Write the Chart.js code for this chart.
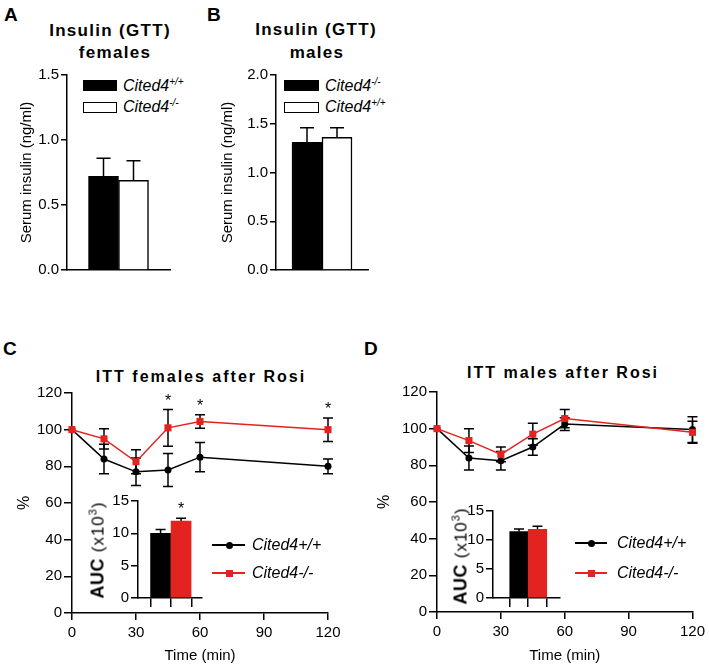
<!DOCTYPE html>
<html><head><meta charset="utf-8">
<script src="https://cdn.jsdelivr.net/npm/chart.js@4.4.1/dist/chart.umd.min.js"></script>
<style>
html,body{margin:0;padding:0;background:#fff;}
#fig{position:relative;width:709px;height:668px;overflow:hidden;font-family:"Liberation Sans",Arial,sans-serif;color:#000;}
canvas{position:absolute;}
.t{position:absolute;white-space:nowrap;}
.letter{font-weight:bold;font-size:19px;line-height:19px;}
.title{font-weight:bold;font-size:17px;letter-spacing:1.3px;text-align:center;line-height:20px;width:300px;}
.ttl2{font-weight:bold;font-size:16px;letter-spacing:2px;text-align:center;line-height:20px;width:300px;}
.leg{font-style:italic;font-size:16px;line-height:20px;}
.leg sup{font-size:10px;vertical-align:6px;line-height:0;}
.box{position:absolute;box-sizing:border-box;}
.auc{position:absolute;white-space:nowrap;transform:translate(-50%,-50%) rotate(-90deg);font-size:17px;line-height:20px;letter-spacing:1px;}
.auc b{font-size:18px;letter-spacing:0.5px;}
.auc sup{font-size:11px;vertical-align:7px;line-height:0;}
</style></head>
<body><div id="fig">
<div class="t letter" style="left:4px;top:5px;">A</div>
<div class="t letter" style="left:207px;top:5px;">B</div>
<div class="t letter" style="left:3px;top:339px;">C</div>
<div class="t letter" style="left:364px;top:339px;">D</div>

<div class="t title" style="left:-40px;top:21px;">Insulin (GTT)</div>
<div class="t title" style="left:-35px;top:43px;">females</div>
<div class="t title" style="left:166px;top:20px;">Insulin (GTT)</div>
<div class="t title" style="left:167px;top:43px;">males</div>
<div class="t ttl2" style="left:51px;top:367px;">ITT females after Rosi</div>
<div class="t ttl2" style="left:413px;top:363px;">ITT males after Rosi</div>

<!-- legend A -->
<div class="box" style="left:83px;top:80px;width:34px;height:11px;background:#000;"></div>
<div class="t leg" style="left:123px;top:76px;">Cited4<sup>+/+</sup></div>
<div class="box" style="left:83px;top:102px;width:34px;height:11px;background:#fff;border:1.5px solid #000;"></div>
<div class="t leg" style="left:123px;top:97px;">Cited4<sup>-/-</sup></div>
<!-- legend B -->
<div class="box" style="left:284px;top:80px;width:35px;height:11px;background:#000;"></div>
<div class="t leg" style="left:325px;top:76px;">Cited4<sup>-/-</sup></div>
<div class="box" style="left:284px;top:102px;width:35px;height:11px;background:#fff;border:1.5px solid #000;"></div>
<div class="t leg" style="left:325px;top:97px;">Cited4<sup>+/+</sup></div>
</div>
<script>
// ---------------- data ----------------
const insulinF_groups = ['Cited4+/+', 'Cited4-/-'];
const insulinF_mean = [0.72, 0.69];
const insulinF_sem = [0.14, 0.15];

const insulinM_groups = ['Cited4-/-', 'Cited4+/+'];
const insulinM_mean = [1.31, 1.36];
const insulinM_sem = [0.15, 0.10];

const timeMin = [0, 15, 30, 45, 60, 120];
const xTicks = [0, 30, 60, 90, 120];
const seriesNames = ['Cited4+/+', 'Cited4-/-'];

const ittF_wt = [100, 84, 77, 78, 85, 80];
const ittF_wt_sem = [0, 8, 7.5, 9, 8, 4];
const ittF_ko = [100, 95, 82.5, 101, 104.5, 100];
const ittF_ko_sem = [0, 5.5, 6.5, 10, 3.7, 6.4];
const ittF_sig = [false, false, false, true, true, true];
const aucF = [10.0, 11.9];
const aucF_sem = [0.6, 0.45];
const aucF_sig = [false, true];

const ittM_wt = [100, 84, 82.5, 90, 102.5, 99.5];
const ittM_wt_sem = [0, 6.5, 5, 4.5, 3.5, 7];
const ittM_ko = [100, 93.5, 86, 97, 105.5, 98];
const ittM_ko_sem = [0, 6.5, 4, 6, 5, 6];
const aucM = [11.45, 11.85];
const aucM_sem = [0.45, 0.5];

// ---------------- helpers ----------------
const BLACK = '#000000', RED = '#e2231f';
const FONT = '"Liberation Sans", Arial, sans-serif';
Chart.defaults.font.family = FONT;
Chart.defaults.color = '#000';
const fig = document.getElementById('fig');

function makeCanvas(left, top, w, h) {
  const c = document.createElement('canvas');
  c.width = w; c.height = h;
  c.style.left = left + 'px'; c.style.top = top + 'px';
  c.style.width = w + 'px'; c.style.height = h + 'px';
  fig.appendChild(c);
  return c;
}
function addHTML(html) { fig.insertAdjacentHTML('beforeend', html); }

const errorBarPlugin = {
  id: 'errbars',
  beforeDatasetsDraw(chart) {
    const ctx = chart.ctx;
    chart.data.datasets.forEach((ds, di) => {
      if (!ds.errors) return;
      const meta = chart.getDatasetMeta(di);
      const ys = chart.scales[meta.yAxisID];
      ctx.save();
      ctx.strokeStyle = '#000'; ctx.lineWidth = 1.5;
      meta.data.forEach((el, i) => {
        const e = ds.errors[i]; if (!e) return;
        const v = ds.means[i];
        const x = el.x;
        const yT = ys.getPixelForValue(v + e);
        const yB = ds.errUp ? ys.getPixelForValue(v) : ys.getPixelForValue(v - e);
        const cw = ds.capHalf || 5;
        ctx.beginPath();
        ctx.moveTo(x, yT); ctx.lineTo(x, yB);
        ctx.moveTo(x - cw, yT); ctx.lineTo(x + cw, yT);
        if (!ds.errUp) { ctx.moveTo(x - cw, yB); ctx.lineTo(x + cw, yB); }
        ctx.stroke();
      });
      ctx.restore();
    });
  },
  afterDatasetsDraw(chart) {
    const ctx = chart.ctx;
    chart.data.datasets.forEach((ds, di) => {
      if (!ds.sig) return;
      const meta = chart.getDatasetMeta(di);
      const ys = chart.scales[meta.yAxisID];
      ctx.save();
      ctx.fillStyle = '#000';
      ctx.font = '16px ' + FONT;
      ctx.textAlign = 'center'; ctx.textBaseline = 'alphabetic';
      meta.data.forEach((el, i) => {
        if (!ds.sig[i]) return;
        const yT = ys.getPixelForValue(ds.means[i] + (ds.errors ? ds.errors[i] : 0));
        ctx.fillText('*', el.x, yT - 4);
      });
      ctx.restore();
    });
  }
};

function yAxis(opts) {
  return Object.assign({
    border: { display: true, color: BLACK, width: 1.5 },
    grid: { display: true, drawOnChartArea: false, drawTicks: true, color: BLACK, lineWidth: 1.5, tickLength: 6 },
  }, opts);
}

// ---------------- Panel A / B (insulin bars) ----------------
function insulinChart(canvas, groups, means, sems, colors, yMax, padRight, yWidth, titlePad) {
  return new Chart(canvas, {
    type: 'bar',
    data: {
      labels: [''],
      datasets: groups.map((g, i) => ({
        label: g, data: [means[i]], means: [means[i]], errors: [sems[i]], errUp: true, capHalf: 7,
        backgroundColor: colors[i], borderColor: BLACK, borderWidth: 1.5, barThickness: 30
      }))
    },
    options: {
      responsive: false, animation: false, devicePixelRatio: 1,
      layout: { padding: { top: 15, right: padRight, left: 0, bottom: 0 } },
      plugins: { legend: { display: false }, tooltip: { enabled: false } },
      scales: {
        x: { type: 'category', ticks: { display: false }, grid: { display: false },
             border: { display: true, color: BLACK, width: 1.5 },
             afterFit: s => { s.height = 20; } },
        y: yAxis({
          min: 0, max: yMax,
          ticks: { stepSize: 0.5, callback: v => Number(v).toFixed(1), font: { size: 15 }, padding: 2 },
          title: { display: true, text: 'Serum insulin (ng/ml)', font: { size: 15 }, padding: { top: titlePad, bottom: 0 } },
          afterFit: s => { s.width = yWidth; }
        })
      }
    },
    plugins: [errorBarPlugin]
  });
}
insulinChart(makeCanvas(0, 60, 180, 230), insulinF_groups, insulinF_mean, insulinF_sem, [BLACK, '#ffffff'], 1.5, 10, 67, 18);
insulinChart(makeCanvas(180, 60, 200, 230), insulinM_groups, insulinM_mean, insulinM_sem, [BLACK, '#ffffff'], 2.0, 12, 96, 39);

// ---------------- Panels C / D (ITT lines) ----------------
function ittChart(canvas, wt, wtSem, ko, koSem, koSig, pad, yWidth, xHeight, xTitlePad) {
  return new Chart(canvas, {
    type: 'line',
    data: {
      datasets: [
        { label: seriesNames[1], data: timeMin.map((t, i) => ({ x: t, y: ko[i] })), means: ko, errors: koSem, sig: koSig, capHalf: 5,
          borderColor: RED, backgroundColor: RED, borderWidth: 1.5, pointStyle: 'rect', pointRadius: 5,
          pointBackgroundColor: RED, pointBorderColor: RED, pointBorderWidth: 0, clip: false, order: 0, tension: 0 },
        { label: seriesNames[0], data: timeMin.map((t, i) => ({ x: t, y: wt[i] })), means: wt, errors: wtSem, capHalf: 5,
          borderColor: BLACK, backgroundColor: BLACK, borderWidth: 1.5, pointStyle: 'circle', pointRadius: 3.5,
          pointBackgroundColor: BLACK, pointBorderColor: BLACK, pointBorderWidth: 0, clip: false, order: 1, tension: 0 }
      ]
    },
    options: {
      responsive: false, animation: false, devicePixelRatio: 1,
      layout: { padding: pad },
      plugins: { legend: { display: false }, tooltip: { enabled: false } },
      scales: {
        x: yAxis({
          type: 'linear', min: 0, max: 120,
          afterBuildTicks: s => { s.ticks = xTicks.map(v => ({ value: v })); },
          ticks: { font: { size: 15 }, padding: 4 },
          grid: { display: true, drawOnChartArea: false, drawTicks: true, color: BLACK, lineWidth: 1.5, tickLength: 7 },
          title: { display: true, text: 'Time (min)', font: { size: 15 }, padding: { top: 0, bottom: xTitlePad } },
          afterFit: s => { s.height = xHeight; }
        }),
        y: yAxis({
          min: 0, max: 120,
          ticks: { stepSize: 20, font: { size: 15 }, padding: 2 },
          grid: { display: true, drawOnChartArea: false, drawTicks: true, color: BLACK, lineWidth: 1.5, tickLength: 8 },
          title: { display: true, text: '%', font: { size: 16 }, padding: { top: 15, bottom: 0 } },
          afterFit: s => { s.width = yWidth; }
        })
      }
    },
    plugins: [errorBarPlugin]
  });
}
ittChart(makeCanvas(0, 380, 360, 288), ittF_wt, ittF_wt_sem, ittF_ko, ittF_ko_sem, ittF_sig,
  { top: 13, right: 32, left: 0, bottom: 0 }, 72, 55, 3);
ittChart(makeCanvas(360, 380, 349, 288), ittM_wt, ittM_wt_sem, ittM_ko, ittM_ko_sem, null,
  { top: 12, right: 16, left: 0, bottom: 0 }, 77, 56, 3);

// ---------------- AUC insets ----------------
function aucChart(canvas, vals, sems, sig, pad, xMin, xMax, thick) {
  return new Chart(canvas, {
    type: 'bar',
    data: {
      datasets: [{
        label: 'AUC', data: vals.map((v, i) => ({ x: i + 1, y: v })), means: vals, errors: sems, sig: sig, errUp: true, capHalf: 5,
        backgroundColor: [BLACK, RED], borderWidth: 0, barThickness: thick
      }]
    },
    options: {
      responsive: false, animation: false, devicePixelRatio: 1,
      layout: { padding: pad },
      plugins: { legend: { display: false }, tooltip: { enabled: false } },
      scales: {
        x: yAxis({
          type: 'linear', min: xMin, max: xMax, offset: false,
          afterBuildTicks: s => { s.ticks = vals.map((v, i) => ({ value: i + 1 })); },
          ticks: { display: false },
          grid: { display: true, drawOnChartArea: false, drawTicks: true, color: BLACK, lineWidth: 1.5, tickLength: 9 },
          afterFit: s => { s.height = 17; }
        }),
        y: yAxis({
          min: 0, max: 15,
          ticks: { stepSize: 5, font: { size: 15 }, padding: 2 },
          grid: { display: true, drawOnChartArea: false, drawTicks: true, color: BLACK, lineWidth: 1.5, tickLength: 7 },
          afterFit: s => { s.width = 53; }
        })
      }
    },
    plugins: [errorBarPlugin]
  });
}
aucChart(makeCanvas(85, 490, 125, 125), aucF, aucF_sem, aucF_sig, { top: 11, right: 8, left: 0, bottom: 0 }, -0.1, 3.02, 20);
aucChart(makeCanvas(440, 500, 130, 115), aucM, aucM_sem, null, { top: 10, right: 10, left: 0, bottom: 0 }, -0.405, 3.216, 18.5);

// inset axis titles
addHTML('<div class="auc" style="left:98px;top:550px;"><b>AUC</b> (x10<sup>3</sup>)</div>');
addHTML('<div class="auc" style="left:461px;top:556px;"><b>AUC</b> (x10<sup>3</sup>)</div>');

// legends C / D
function lineLegend(x0, x1, xm, y, color, square, text, tx) {
  addHTML('<div class="box" style="left:' + x0 + 'px;top:' + (y - 0.75) + 'px;width:' + (x1 - x0) + 'px;height:1.5px;background:' + color + ';"></div>');
  if (square) addHTML('<div class="box" style="left:' + (xm - 3.5) + 'px;top:' + (y - 3.5) + 'px;width:7px;height:7px;background:' + color + ';"></div>');
  else addHTML('<div class="box" style="left:' + (xm - 3.5) + 'px;top:' + (y - 3.5) + 'px;width:7px;height:7px;border-radius:50%;background:' + color + ';"></div>');
  addHTML('<div class="t leg" style="left:' + tx + 'px;top:' + (y - 10) + 'px;">' + text + '</div>');
}
lineLegend(212, 245, 229, 545, BLACK, false, seriesNames[0], 252);
lineLegend(212, 245, 229, 573, RED, true, seriesNames[1], 252);
lineLegend(575, 607, 591, 543, BLACK, false, seriesNames[0], 617);
lineLegend(575, 607, 591, 573, RED, true, seriesNames[1], 617);
</script>
</body></html>
